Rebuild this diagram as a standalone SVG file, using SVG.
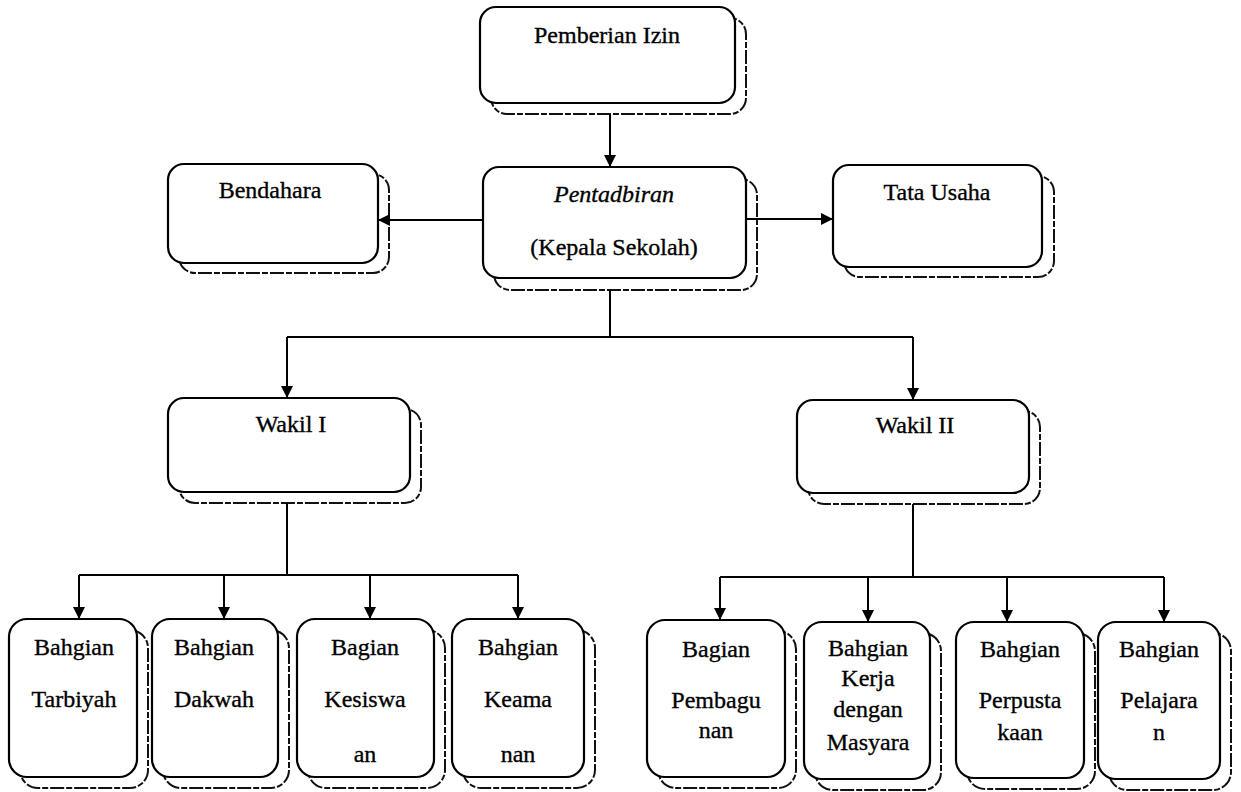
<svg xmlns="http://www.w3.org/2000/svg" width="1241" height="792" viewBox="0 0 1241 792">
<defs>
<style>
.box{fill:#fff;stroke:#000;stroke-width:2.2}
.sh{fill:#fff;stroke:#111;stroke-width:2;stroke-dasharray:14 2 6 2}
.t{font-family:'Liberation Serif','Times New Roman',serif;font-size:24px;fill:#000;stroke:#000;stroke-width:0.35;text-anchor:middle}
.ln{fill:none;stroke:#000;stroke-width:2}
</style>
<marker id="ah" markerWidth="12" markerHeight="14" refX="11" refY="6" orient="auto" markerUnits="userSpaceOnUse">
<path d="M0,0 L12,6 L0,12 Z" fill="#000"/>
</marker>
</defs>
<rect width="1241" height="792" fill="#fff"/>

<g id="pemberian">
<rect class="sh" x="491" y="18" width="255" height="96" rx="16"/>
<rect class="box" x="480" y="7" width="255" height="96" rx="16"/>
<text class="t" x="607" y="43">Pemberian Izin</text>
</g>

<g id="pentadbiran">
<rect class="sh" x="494" y="179" width="263" height="111" rx="16"/>
<rect class="box" x="483" y="167" width="263" height="111" rx="16"/>
<text class="t" x="614" y="202" font-style="italic">Pentadbiran</text>
<text class="t" x="614" y="255">(Kepala Sekolah)</text>
</g>

<g id="bendahara">
<rect class="sh" x="179" y="174" width="210" height="99" rx="16"/>
<rect class="box" x="168" y="164" width="210" height="99" rx="16"/>
<text class="t" x="270" y="198">Bendahara</text>
</g>

<g id="tatausaha">
<rect class="sh" x="844" y="176" width="210" height="101" rx="16"/>
<rect class="box" x="833" y="165" width="209" height="102" rx="16"/>
<text class="t" x="937" y="200">Tata Usaha</text>
</g>

<g id="wakil1">
<rect class="sh" x="179" y="409" width="242" height="94" rx="16"/>
<rect class="box" x="168" y="398" width="242" height="94" rx="16"/>
<text class="t" x="291" y="432">Wakil I</text>
</g>

<g id="wakil2">
<rect class="sh" x="808" y="411" width="232" height="93" rx="16"/>
<rect class="box" x="797" y="400" width="232" height="93" rx="16"/>
<text class="t" x="915" y="433">Wakil II</text>
</g>

<g id="b-tarbiyah">
<rect class="sh" x="20" y="630" width="128" height="158" rx="18"/>
<rect class="box" x="9" y="619" width="128" height="158" rx="18"/>
<text class="t" x="74" y="655">Bahgian</text>
<text class="t" x="74" y="707">Tarbiyah</text>
</g>

<g id="b-dakwah">
<rect class="sh" x="163" y="630" width="126" height="158" rx="18"/>
<rect class="box" x="152" y="619" width="126" height="158" rx="18"/>
<text class="t" x="214" y="655">Bahgian</text>
<text class="t" x="214" y="707">Dakwah</text>
</g>

<g id="b-kesiswaan">
<rect class="sh" x="308" y="630" width="137" height="158" rx="18"/>
<rect class="box" x="297" y="619" width="137" height="158" rx="18"/>
<text class="t" x="365" y="655">Bagian</text>
<text class="t" x="365" y="707">Kesiswa</text>
<text class="t" x="365" y="762">an</text>
</g>

<g id="b-keamanan">
<rect class="sh" x="463" y="630" width="132" height="158" rx="18"/>
<rect class="box" x="452" y="619" width="132" height="158" rx="18"/>
<text class="t" x="518" y="655">Bahgian</text>
<text class="t" x="518" y="707">Keama</text>
<text class="t" x="518" y="762">nan</text>
</g>

<g id="b-pembangunan">
<rect class="sh" x="658" y="631" width="138" height="157" rx="18"/>
<rect class="box" x="647" y="620" width="138" height="157" rx="18"/>
<text class="t" x="716" y="657">Bagian</text>
<text class="t" x="716" y="708">Pembagu</text>
<text class="t" x="716" y="738">nan</text>
</g>

<g id="b-kerja">
<rect class="sh" x="815" y="633" width="126" height="157" rx="18"/>
<rect class="box" x="804" y="622" width="126" height="157" rx="18"/>
<text class="t" x="868" y="656">Bahgian</text>
<text class="t" x="868" y="686">Kerja</text>
<text class="t" x="868" y="717">dengan</text>
<text class="t" x="868" y="750">Masyara</text>
</g>

<g id="b-perpustakaan">
<rect class="sh" x="967" y="633" width="128" height="156" rx="18"/>
<rect class="box" x="956" y="622" width="128" height="156" rx="18"/>
<text class="t" x="1020" y="657">Bahgian</text>
<text class="t" x="1020" y="708">Perpusta</text>
<text class="t" x="1020" y="740">kaan</text>
</g>

<g id="b-pelajaran">
<rect class="sh" x="1109" y="633" width="122" height="157" rx="18"/>
<rect class="box" x="1098" y="622" width="122" height="157" rx="18"/>
<text class="t" x="1159" y="657">Bahgian</text>
<text class="t" x="1159" y="708">Pelajara</text>
<text class="t" x="1159" y="740">n</text>
</g>

<g id="connectors">
<path class="ln" d="M610,114 V166" marker-end="url(#ah)"/>
<path class="ln" d="M483,220 H379" marker-end="url(#ah)"/>
<path class="ln" d="M746,219 H832" marker-end="url(#ah)"/>
<path class="ln" d="M610,290 V337 M287,337 H913"/>
<path class="ln" d="M287,337 V397" marker-end="url(#ah)"/>
<path class="ln" d="M913,337 V399" marker-end="url(#ah)"/>
<path class="ln" d="M287,503 V575 M79,575 H518"/>
<path class="ln" d="M79,575 V618" marker-end="url(#ah)"/>
<path class="ln" d="M224,575 V618" marker-end="url(#ah)"/>
<path class="ln" d="M370,575 V618" marker-end="url(#ah)"/>
<path class="ln" d="M518,575 V618" marker-end="url(#ah)"/>
<path class="ln" d="M913,504 V577 M720,577 H1164"/>
<path class="ln" d="M720,577 V619" marker-end="url(#ah)"/>
<path class="ln" d="M868,577 V621" marker-end="url(#ah)"/>
<path class="ln" d="M1007,577 V621" marker-end="url(#ah)"/>
<path class="ln" d="M1164,577 V621" marker-end="url(#ah)"/>
</g>
</svg>
